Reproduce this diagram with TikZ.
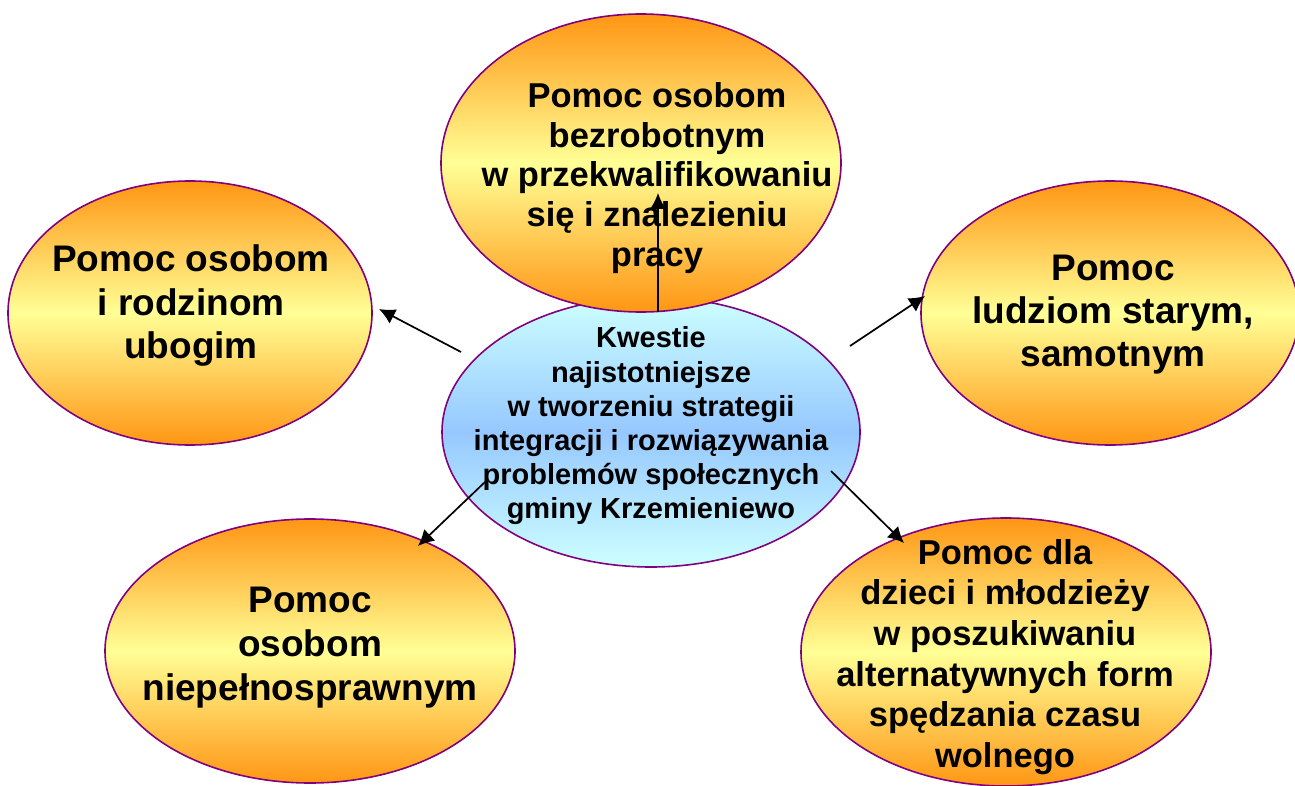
\documentclass[tikz,border=0pt]{standalone}
\usepackage{fontspec}
\setmainfont{Liberation Sans}
\usetikzlibrary{shapes.geometric,arrows.meta}
\definecolor{orng}{RGB}{255,150,20}
\definecolor{ylw}{RGB}{255,255,150}
\definecolor{cyanl}{RGB}{205,255,255}
\definecolor{bluem}{RGB}{150,200,255}
\definecolor{purp}{RGB}{128,0,128}
\tikzset{
  bubble/.style={ellipse, draw=purp, line width=1.6pt, inner sep=0pt,
    top color=orng, bottom color=orng, middle color=ylw},
  hub/.style={ellipse, draw=purp, line width=1.6pt, inner sep=0pt,
    top color=cyanl, bottom color=cyanl, middle color=bluem},
  lbl/.style={align=center, inner sep=0pt, font=\bfseries},
  link/.style={line width=1.7pt, -{Latex[length=16pt,width=16pt]}}
}
\begin{document}
\begin{tikzpicture}[x=1pt,y=-1pt]
\useasboundingbox (0,0) rectangle (1295,786);
% centre ellipse first (overlapped by top one)
\node[hub, minimum width=418pt, minimum height=270pt] (hubE) at (651,432) {};
\node[bubble, minimum width=400pt, minimum height=298pt] (topE) at (641,163) {};
\node[bubble, minimum width=364pt, minimum height=264pt] (leftE) at (190,313) {};
\node[bubble, minimum width=378pt, minimum height=264pt] (rightE) at (1110,313) {};
\node[bubble, minimum width=410pt, minimum height=264pt] (blE) at (310,651) {};
\node[bubble, minimum width=410pt, minimum height=268pt] (brE) at (1006,652) {};
% texts
\node[lbl, font=\bfseries\fontsize{29}{34.2}\selectfont] (hubT) at (651,426)
  {Kwestie\\najistotniejsze\\w tworzeniu strategii\\integracji i rozwiązywania\\problemów społecznych\\gminy Krzemieniewo};
\node[lbl, font=\bfseries\fontsize{34.5}{39.75}\selectfont] (topT) at (657,178)
  {Pomoc osobom\\bezrobotnym\\w przekwalifikowaniu\\się i znalezieniu\\pracy};
\node[lbl, font=\bfseries\fontsize{37}{43.5}\selectfont] (leftT) at (191,306)
  {Pomoc osobom\\i rodzinom\\ubogim};
\node[lbl, font=\bfseries\fontsize{37}{43}\selectfont] (rightT) at (1113,315)
  {Pomoc\\ludziom starym,\\samotnym};
\node[lbl, font=\bfseries\fontsize{37}{44}\selectfont] (blT) at (310,648)
  {Pomoc\\osobom\\niepełnosprawnym};
\node[lbl, font=\bfseries\fontsize{34.5}{40.6}\selectfont] (brT) at (1005,657)
  {Pomoc dla\\dzieci i młodzieży\\w poszukiwaniu\\alternatywnych form\\spędzania czasu\\wolnego};
% arrow end points
\coordinate (sUp) at (658,312);   \coordinate (tUp) at (658,193);
\coordinate (sL) at (461,352);    \coordinate (tL) at (379,309);
\coordinate (sR) at (850,346);    \coordinate (tR) at (925,296);
\coordinate (sBL) at (485,482);   \coordinate (tBL) at (418,546);
\coordinate (sBR) at (831,471);   \coordinate (tBR) at (904,543);
\draw[link] (sUp) -- (tUp);
\draw[link] (sL) -- (tL);
\draw[link] (sR) -- (tR);
\draw[link] (sBL) -- (tBL);
\draw[link] (sBR) -- (tBR);
\end{tikzpicture}
\end{document}
